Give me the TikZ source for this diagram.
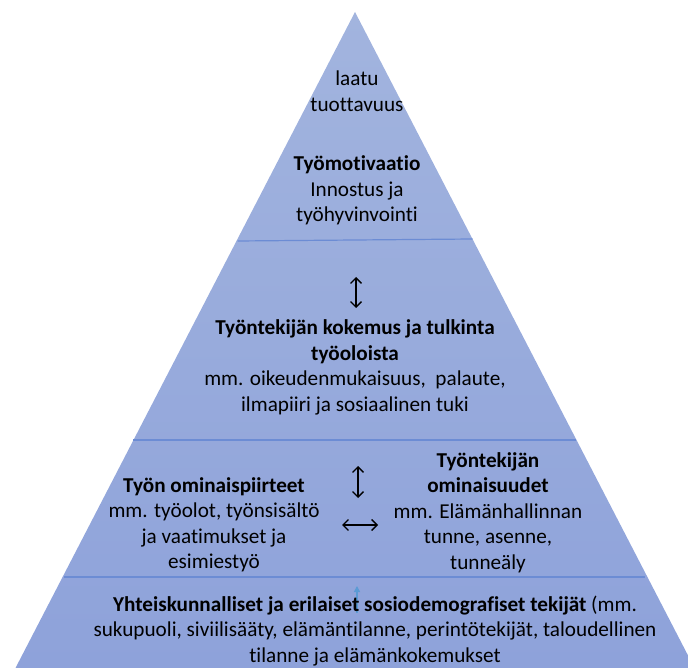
\documentclass[tikz,border=0pt]{standalone}
\usepackage{fontspec}
\setmainfont[RawFeature={-liga}]{Carlito}
\usetikzlibrary{arrows.meta}
\definecolor{topfill}{RGB}{162,180,222}
\definecolor{botfill}{RGB}{142,162,218}
\definecolor{bandline}{RGB}{108,140,212}
\definecolor{smallarrow}{RGB}{91,155,213}
\tikzset{
  txt/.style={align=center, inner sep=0pt, font=\fontsize{21.2}{25.5}\selectfont, text=black},
  sep/.style={draw=bandline, line width=1.2pt},
  dbl/.style={line width=1.4pt, {Straight Barb[length=5.5pt,width=11pt]}-{Straight Barb[length=5.5pt,width=11pt]}},
}
\begin{document}
\begin{tikzpicture}[x=1pt,y=-1pt]
\useasboundingbox (0,0) rectangle (688,668);
\begin{scope}
\clip (0,0) rectangle (688,668);
\shade[top color=topfill, bottom color=botfill] (355,12) -- (694.5,668) -- (15.5,668) -- cycle;
\end{scope}
% band separators
\draw[sep] (237.5,241) -- (472.5,239);
\draw[sep] (133,440) -- (576,440);
\draw[sep] (64,577) -- (645,577);
% top band
\node[txt] (top) at (357,91) {laatu\\tuottavuus};
\node[txt] (motiv) at (357,190.5) {\textbf{Työmotivaatio}\\Innostus ja\\työhyvinvointi};
% second band
\coordinate (a1t) at (356,277);
\coordinate (a1b) at (356,308);
\draw[dbl] (a1t) -- (a1b);
\node[txt] (kok) at (355,367.5) {\textbf{Työntekijän kokemus ja tulkinta}\\\textbf{työoloista}\\mm. oikeudenmukaisuus,\ \ palaute,\\ilmapiiri ja sosiaalinen tuki};
% third band
\node[txt] (tyon) at (214,525) {\textbf{Työn ominaispiirteet}\\mm. työolot, työnsisältö\\ja vaatimukset ja\\esimiestyö};
\node[txt] (tyontek) at (488,512.5) {\textbf{Työntekijän}\\\textbf{ominaisuudet}\\mm. Elämänhallinnan\\tunne, asenne,\\tunneäly};
\coordinate (a2t) at (358,466);
\coordinate (a2b) at (358,498);
\draw[dbl] (a2t) -- (a2b);
\coordinate (h1) at (342,525);
\coordinate (h2) at (378,525);
\draw[dbl] (h1) -- (h2);
% bottom band
\coordinate (s1) at (357,613);
\coordinate (s2) at (357,586);
\draw[smallarrow, line width=1.3pt, -{Triangle[length=6pt,width=6pt]}] (s1) -- (s2);
\node[txt] (soc) at (375,631) {\textbf{Yhteiskunnalliset ja erilaiset sosiodemografiset tekijät} (mm.\\sukupuoli, siviilisääty, elämäntilanne, perintötekijät, taloudellinen\\tilanne ja elämänkokemukset};
\end{tikzpicture}
\end{document}
